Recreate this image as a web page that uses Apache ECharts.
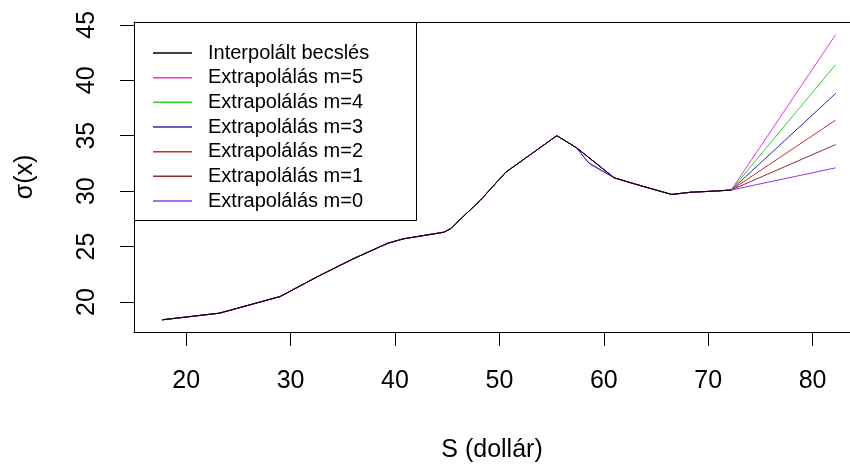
<!DOCTYPE html>
<html>
<head>
<meta charset="utf-8">
<script src="https://cdn.jsdelivr.net/npm/echarts@6/dist/echarts.min.js"></script>
<style>
html,body{margin:0;padding:0;background:#fff;}
#chart{width:850px;height:468px;}
</style>
</head>
<body>
<div id="chart"></div>
<script>
// ---- data ----
const xBase = [17.7, 23.2, 29.0, 32.8, 36.0, 39.3, 40.8, 44.7, 45.3, 48.2, 50.6, 55.5, 57.4, 61.0, 63.5, 66.5, 68.3, 70.5, 72.2];
const yBase = [18.4, 19.0, 20.5, 22.4, 23.9, 25.3, 25.7, 26.3, 26.6, 29.2, 31.7, 35.0, 33.9, 31.2, 30.5, 29.7, 29.9, 30.0, 30.1];
const xEnd = 82.2;
const seriesNames = ["Interpolált becslés", "Extrapolálás m=5", "Extrapolálás m=4", "Extrapolálás m=3", "Extrapolálás m=2", "Extrapolálás m=1", "Extrapolálás m=0"];
const extrapEnds = [44.1, 41.4, 38.8, 36.4, 34.2, 32.1]; // m=5..m=0 at xEnd
const magentaDipX = 58.7, magentaDipY = 32.4;             // small deviations after the peak
const blueDipX = 58.5, blueDipY = 32.6;
const xTicks = [20, 30, 40, 50, 60, 70, 80];
const yTicks = [20, 25, 30, 35, 40, 45];
const colors = ["#000000", "#e03be0", "#2ed42e", "#2a2aae", "#cf2a2a", "#8e2f2f", "#9b35ee"];

// ---- build ----
function basePairs() { return xBase.map((x, i) => [x, yBase[i]]); }
function withExtra(pairs, ex, ey) {
  const p = pairs.concat([[ex, ey]]);
  p.sort((a, b) => a[0] - b[0]);
  return p;
}
const series = [];
extrapEnds.forEach((yend, k) => {
  let pts = basePairs();
  if (k === 0) pts = withExtra(pts, magentaDipX, magentaDipY);
  if (k === 2) pts = withExtra(pts, blueDipX, blueDipY);
  pts.push([xEnd, yend]);
  series.push({
    name: seriesNames[k + 1], type: 'line', data: pts, showSymbol: false, symbol: 'none',
    lineStyle: { color: colors[k + 1], width: 1 }, itemStyle: { color: colors[k + 1] },
    z: 2 + k, silent: true
  });
});
series.unshift({
  name: seriesNames[0], type: 'line', data: basePairs(), showSymbol: false, symbol: 'none',
  lineStyle: { color: colors[0], width: 1 }, itemStyle: { color: colors[0] }, z: 10, silent: true
});

const font = 'Liberation Sans, Arial, sans-serif';
const xMin = 15.0, xMax = 83.58;
const chart = echarts.init(document.getElementById('chart'), null, { renderer: 'canvas' });
chart.setOption({
  animation: false,
  backgroundColor: '#fff',
  grid: { left: 134, top: 22, right: 0, height: 322, show: false },
  xAxis: [{
    type: 'value', min: xMin, max: xMax, position: 'bottom',
    name: 'S (dollár)', nameLocation: 'middle', nameGap: 106,
    nameTextStyle: { fontFamily: font, fontSize: 25, color: '#000' },
    axisLine: { show: true, lineStyle: { color: '#000', width: 1 } },
    axisTick: { show: true, length: 14, inside: false, customValues: xTicks, lineStyle: { color: '#000' } },
    axisLabel: { customValues: xTicks, margin: 37, fontFamily: font, fontSize: 25, color: '#000' },
    splitLine: { show: false }
  }, {
    type: 'value', min: xMin, max: xMax, position: 'top',
    axisLine: { show: true, lineStyle: { color: '#000', width: 1 } },
    axisTick: { show: false }, axisLabel: { show: false }, splitLine: { show: false }
  }],
  yAxis: {
    type: 'value', min: 17.3, max: 45.25,
    name: 'σ(x)', nameLocation: 'middle', nameGap: 96, nameRotate: 90,
    nameTextStyle: { fontFamily: font, fontSize: 25, color: '#000' },
    axisLine: { show: true, lineStyle: { color: '#000', width: 1 } },
    axisTick: { show: true, length: 14, inside: false, customValues: yTicks, lineStyle: { color: '#000' } },
    axisLabel: { customValues: yTicks, rotate: 90, margin: 34, fontFamily: font, fontSize: 25, color: '#000' },
    splitLine: { show: false }
  },
  graphic: [{
    type: 'rect', shape: { x: 134.5, y: 22.5, width: 282, height: 198 },
    style: { fill: '#fff', stroke: '#000', lineWidth: 1 }, z: 50, silent: true
  }],
  legend: {
    orient: 'vertical', left: 135, top: 22, z: 60,
    padding: [21, 10, 10, 18],
    icon: 'rect', itemWidth: 39, itemHeight: 1.5, itemGap: 4.67,
    textStyle: { fontFamily: font, fontSize: 20, color: '#000', lineHeight: 20, padding: [0, 0, 0, 11] },
    data: seriesNames.map((n, i) => ({ name: n, itemStyle: { color: colors[i] } })),
    selectedMode: false
  },
  series: series
});
</script>
</body>
</html>
